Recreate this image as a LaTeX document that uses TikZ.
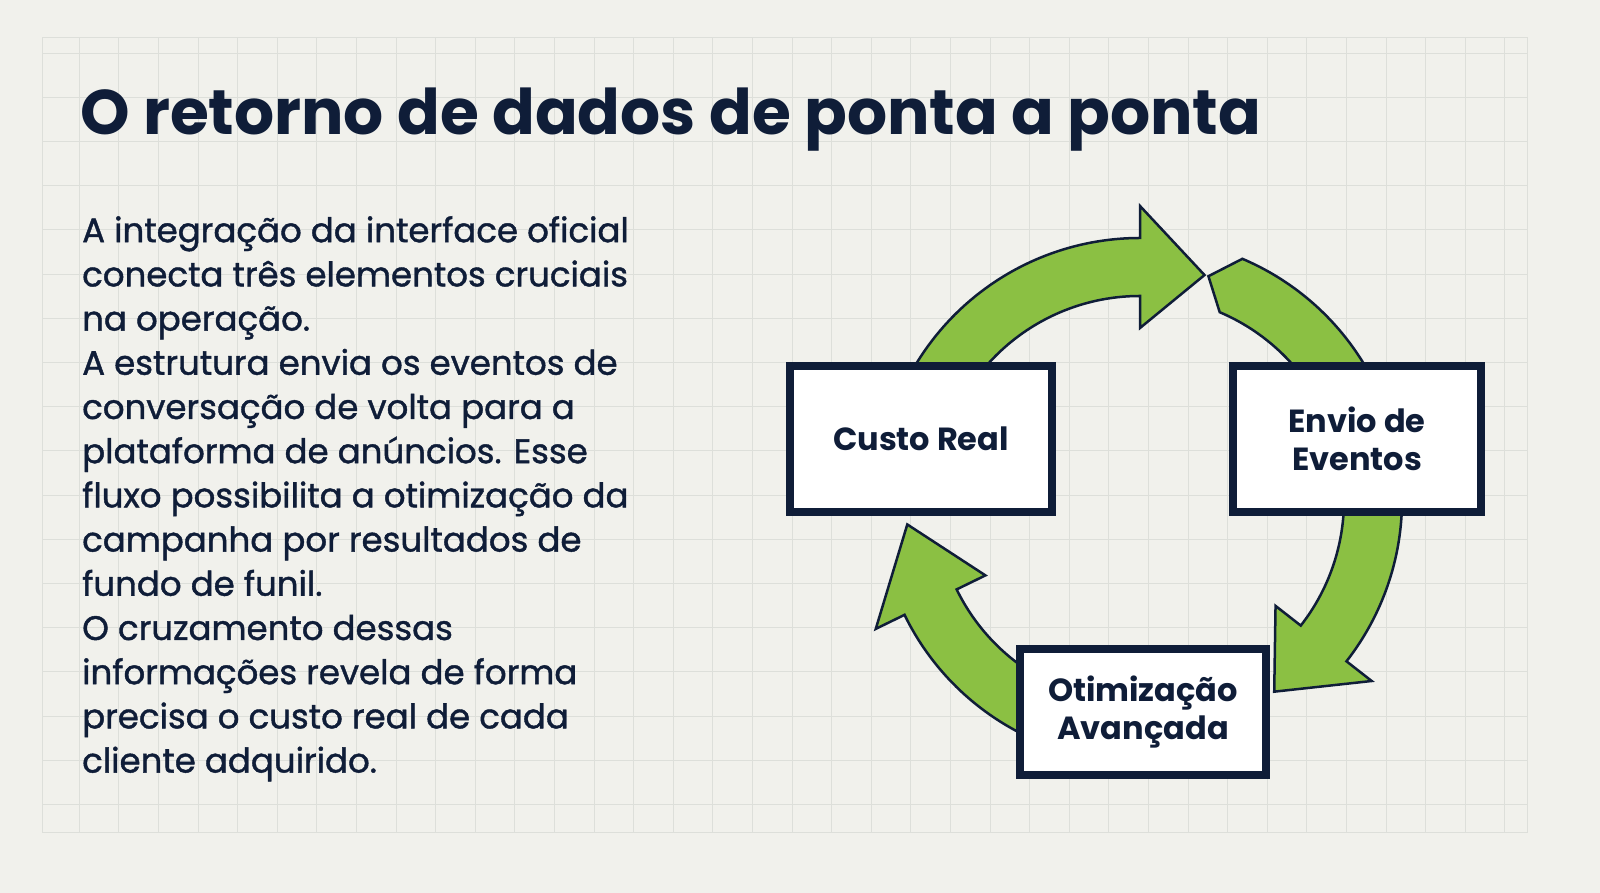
\documentclass[tikz,border=0pt]{standalone}
\usepackage{fontspec}
\setmainfont{Poppins}
\newfontfamily\bodyfont{Poppins}[FakeBold=1.2, AutoFakeBold=1.2]
\usetikzlibrary{positioning}
\definecolor{ink}{HTML}{0F1D38}
\definecolor{leaf}{HTML}{8BC043}
\definecolor{paper}{HTML}{F1F1EC}
\definecolor{gridc}{HTML}{DDDFDA}
% cycle arrow: tail angle, head base angle, tip angle, tail notch
\newcommand{\cyclearrow}[4]{%
  \draw[loop] (#1:262) arc[start angle=#1, end angle=#2, radius=262]
    -- (#2:294) -- (#3:234) -- (#2:172) -- (#2:204)
    arc[start angle=#2, end angle=#1, radius=204] -- (#1-#4:234) -- cycle;}
\begin{document}
\begin{tikzpicture}[x=1pt,y=1pt]
  \tikzset{loop/.style = {fill=leaf, draw=ink, line width=2.5pt, line join=miter}}
  \tikzset{stage/.style = {draw=ink, line width=8pt, fill=white, align=center,
      font=\fontsize{32}{38}\selectfont\bfseries, text=ink}}

  \fill[paper] (0,0) rectangle (1600,893);
  \useasboundingbox (0,0) rectangle (1600,893);
  \draw[gridc, line width=1pt, xstep=39.6, ystep=44.2] (42,60) grid (1527,855);
  \draw[gridc, line width=1pt] (42,60) rectangle (1527,855);

  % title and text
  \node[anchor=base west, text=ink, font=\fontsize{63}{70}\selectfont\bfseries, inner sep=0]
    (title) at (80,758) {O retorno de dados de ponta a ponta};
  \node[anchor=north west, text=ink, align=left, inner sep=0,
    font=\bodyfont\fontsize{34}{44.2}\selectfont] (body) at (82,677)
    {A integração da interface oficial\\conecta três elementos cruciais\\na operação.\\
     A estrutura envia os eventos de\\conversação de volta para a\\plataforma de anúncios. Esse\\
     fluxo possibilita a otimização da\\campanha por resultados de\\fundo de funil.\\
     O cruzamento dessas\\informações revela de forma\\precisa o custo real de cada\\cliente adquirido.};

  % cycle
  \begin{scope}[shift={(1140,393)}]
    \cyclearrow{150}{90}{74}{0}
    \cyclearrow{67}{-38}{-55}{-6}
    \cyclearrow{-115}{-154}{-174}{0}
  \end{scope}

  \node[stage, minimum width=262, minimum height=146] (cost) at (921,454) {Custo Real};
  \node[stage, minimum width=248, minimum height=146] (events) at (1357,454) {Envio de\\Eventos};
  \node[stage, minimum width=246, minimum height=126] (optim) at (1143,181) {Otimização\\Avançada};
\end{tikzpicture}
\end{document}
